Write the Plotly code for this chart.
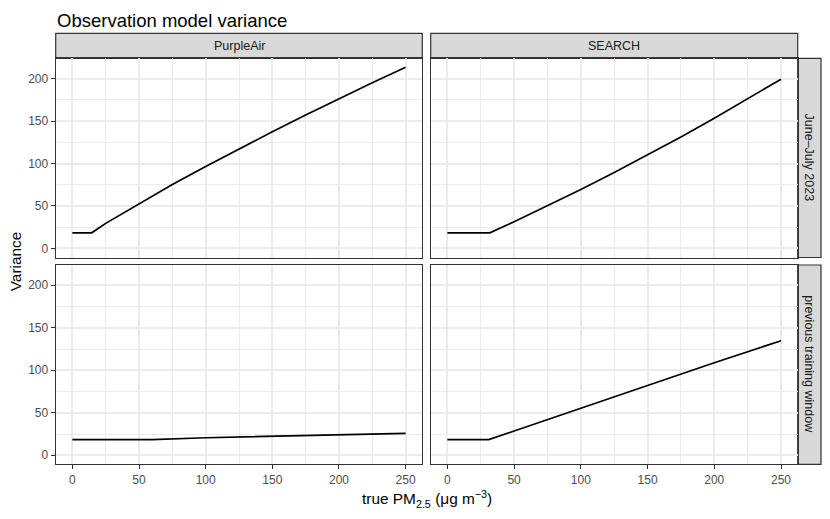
import plotly.graph_objects as go
from plotly.subplots import make_subplots

# ---------------- data ----------------
sensors = ["PurpleAir", "SEARCH"]
periods = ["June–July 2023", "previous training window"]

pa_june_x = [0, 14.5, 25, 50, 75, 100, 125, 150, 175, 200, 225, 250]
pa_june_y = [18.4, 18.4, 29.5, 52.8, 75.2, 96.5, 117.2, 137.3, 157, 176.3, 195, 213.2]

se_june_x = [0, 31.8, 50, 75, 100, 125, 150, 175, 200, 225, 250]
se_june_y = [18.4, 18.4, 31.5, 50.1, 69.4, 89.4, 110.0, 131.3, 153.3, 176.0, 199.3]

pa_prev_x = [0, 60, 100, 150, 200, 250]
pa_prev_y = [18.4, 18.4, 20.6, 22.6, 24.4, 25.8]

se_prev_x = [0, 31, 50, 100, 150, 200, 250]
se_prev_y = [18.4, 18.4, 28.5, 55.5, 82.3, 108.8, 134.8]

hline_y = 0
x_ticks = [0, 50, 100, 150, 200, 250]
y_ticks = [0, 50, 100, 150, 200]

panels = {
    (1, 1): (pa_june_x, pa_june_y),
    (1, 2): (se_june_x, se_june_y),
    (2, 1): (pa_prev_x, pa_prev_y),
    (2, 2): (se_prev_x, se_prev_y),
}

# ---------------- layout geometry (pixels in the 830x519 window) ----------------
W, H = 830, 519
OFF = 8  # default page body margin
FW, FH = W - OFF, H - OFF
col_px = [(55.7, 422.3), (430.7, 797.7)]
row_px = [(58.3, 257.5), (265.0, 464.3)]
strip_top_px = (33.3, 58.3)
strip_right_px = (797.7, 821.0)

def px_x(p):
    return (p - OFF) / FW

def px_y(p):
    return 1 - (p - OFF) / FH

FONT = "Liberation Sans, Arial, Helvetica, sans-serif"
BORDER = "#333333"
GRID = "#EBEBEB"
STRIP_FILL = "#D9D9D9"

fig = make_subplots(rows=2, cols=2)

for (r, c), (xs, ys) in panels.items():
    fig.add_trace(go.Scatter(x=xs, y=ys, mode="lines",
                             line=dict(color="black", width=1.7),
                             showlegend=False, hoverinfo="skip"),
                  row=r, col=c)
    fig.add_hline(y=hline_y, line=dict(color="black", width=1.7), row=r, col=c)

# data range with ggplot-style 5% expansion
all_x = pa_june_x + se_june_x + pa_prev_x + se_prev_x
all_y = pa_june_y + se_june_y + pa_prev_y + se_prev_y + [hline_y]
xmin, xmax = min(all_x), max(all_x)
ymin, ymax = min(all_y), max(all_y)
xr = [xmin - 0.05 * (xmax - xmin), xmax + 0.05 * (xmax - xmin)]
yr = [ymin - 0.05 * (ymax - ymin), ymax + 0.05 * (ymax - ymin)]

for r in (1, 2):
    for c in (1, 2):
        fig.update_xaxes(
            row=r, col=c,
            domain=[px_x(col_px[c - 1][0]), px_x(col_px[c - 1][1])],
            range=xr, tickvals=x_ticks, showgrid=True, gridcolor=GRID, gridwidth=1.8,
            minor=dict(dtick=25, tick0=0, showgrid=True, gridcolor=GRID, gridwidth=0.9, ticks=""),
            zeroline=False, showline=True, mirror=True, linecolor=BORDER, linewidth=1.2,
            ticks="outside" if r == 2 else "", ticklen=4, tickcolor=BORDER, tickwidth=1.2,
            showticklabels=(r == 2),
            tickfont=dict(family=FONT, size=12, color="#4D4D4D"),
        )
        fig.update_yaxes(
            row=r, col=c,
            domain=[px_y(row_px[r - 1][1]), px_y(row_px[r - 1][0])],
            range=yr, tickvals=y_ticks, showgrid=True, gridcolor=GRID, gridwidth=1.8,
            minor=dict(dtick=25, tick0=0, showgrid=True, gridcolor=GRID, gridwidth=0.9, ticks=""),
            zeroline=False, showline=True, mirror=True, linecolor=BORDER, linewidth=1.2,
            ticks="outside" if c == 1 else "", ticklen=4, tickcolor=BORDER, tickwidth=1.2,
            showticklabels=(c == 1),
            tickfont=dict(family=FONT, size=12, color="#4D4D4D"),
        )

shapes = []
annotations = []
# top strips
for i, name in enumerate(sensors):
    x0, x1 = col_px[i]
    shapes.append(dict(type="rect", xref="paper", yref="paper",
                       x0=px_x(x0), x1=px_x(x1),
                       y0=px_y(strip_top_px[1]), y1=px_y(strip_top_px[0]),
                       fillcolor=STRIP_FILL, line=dict(color=BORDER, width=1.2), layer="below"))
    annotations.append(dict(text=name, xref="paper", yref="paper",
                            x=px_x((x0 + x1) / 2), y=px_y(sum(strip_top_px) / 2),
                            showarrow=False, xanchor="center", yanchor="middle",
                            font=dict(family=FONT, size=12.5, color="#1A1A1A")))
# right strips
for j, name in enumerate(periods):
    y0, y1 = row_px[j]
    shapes.append(dict(type="rect", xref="paper", yref="paper",
                       x0=px_x(strip_right_px[0]), x1=px_x(strip_right_px[1]),
                       y0=px_y(y1), y1=px_y(y0),
                       fillcolor=STRIP_FILL, line=dict(color=BORDER, width=1.2), layer="below"))
    annotations.append(dict(text=name, xref="paper", yref="paper",
                            x=px_x(sum(strip_right_px) / 2), y=px_y((y0 + y1) / 2),
                            showarrow=False, xanchor="center", yanchor="middle", textangle=90,
                            font=dict(family=FONT, size=12.5, color="#1A1A1A")))

# title and axis titles
annotations.append(dict(text="Observation model variance", xref="paper", yref="paper",
                        x=px_x(56), y=px_y(8.6), showarrow=False,
                        xanchor="left", yanchor="top", borderpad=0,
                        font=dict(family=FONT, size=18.5, color="black")))
annotations.append(dict(text="Variance", xref="paper", yref="paper",
                        x=px_x(15), y=px_y((row_px[0][0] + row_px[1][1]) / 2),
                        showarrow=False, textangle=-90, xanchor="center", yanchor="middle",
                        font=dict(family=FONT, size=15.4, color="black")))
annotations.append(dict(text="true PM<sub>2.5</sub> (μg m<sup>−3</sup>)", xref="paper", yref="paper",
                        x=px_x((col_px[0][0] + col_px[1][1]) / 2), y=px_y(499),
                        showarrow=False, xanchor="center", yanchor="middle",
                        font=dict(family=FONT, size=15.4, color="black")))

fig.update_layout(width=FW, height=FH, margin=dict(l=0, r=0, t=0, b=0),
                  paper_bgcolor="white", plot_bgcolor="white",
                  shapes=shapes, annotations=annotations, showlegend=False,
                  font=dict(family=FONT))

fig.write_html("out.html")
